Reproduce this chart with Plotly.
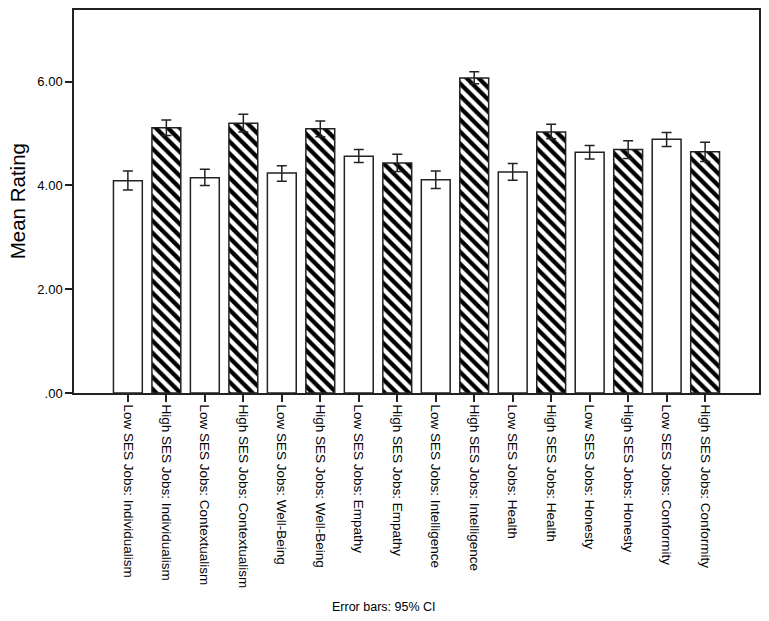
import plotly.graph_objects as go

categories = [
    "Low SES Jobs: Individualism", "High SES Jobs: Individualism",
    "Low SES Jobs: Contextualism", "High SES Jobs: Contextualism",
    "Low SES Jobs: Well-Being", "High SES Jobs: Well-Being",
    "Low SES Jobs: Empathy", "High SES Jobs: Empathy",
    "Low SES Jobs: Intelligence", "High SES Jobs: Intelligence",
    "Low SES Jobs: Health", "High SES Jobs: Health",
    "Low SES Jobs: Honesty", "High SES Jobs: Honesty",
    "Low SES Jobs: Conformity", "High SES Jobs: Conformity",
]
means = [4.09, 5.11, 4.15, 5.20, 4.24, 5.09, 4.56, 4.43,
         4.11, 6.07, 4.26, 5.03, 4.64, 4.69, 4.89, 4.65]
ci_upper = [4.28, 5.26, 4.31, 5.37, 4.38, 5.24, 4.69, 4.60,
            4.28, 6.19, 4.42, 5.18, 4.77, 4.86, 5.02, 4.83]
ci_lower = [3.91, 4.96, 4.00, 5.03, 4.08, 4.94, 4.44, 4.27,
            3.94, 5.96, 4.10, 4.90, 4.51, 4.52, 4.75, 4.46]
tick_vals = [0, 2, 4, 6]
tick_text = [".00", "2.00", "4.00", "6.00"]

err_plus = [u - m for u, m in zip(ci_upper, means)]
err_minus = [m - l for m, l in zip(means, ci_lower)]
shapes = ["\\" if c.startswith("High") else "" for c in categories]

FONT = "Liberation Sans, Arial, sans-serif"

fig = go.Figure()
fig.add_trace(go.Bar(
    x=categories,
    y=means,
    width=0.75,
    marker=dict(
        color="white",
        line=dict(color="#222222", width=1.5),
        pattern=dict(shape=shapes, fgcolor="black", bgcolor="white",
                     size=8.5, solidity=0.5, fgopacity=1, fillmode="overlay"),
    ),
    error_y=dict(type="data", symmetric=False, array=err_plus,
                 arrayminus=err_minus, color="#222222", thickness=1.5, width=5),
    showlegend=False,
))

fig.update_layout(
    width=769, height=621,
    margin=dict(l=74, r=9, t=8, b=228),
    paper_bgcolor="white", plot_bgcolor="white",
    font=dict(family=FONT, color="black", size=12),
    xaxis=dict(
        type="category", range=[-1.4, 16.4],
        showline=True, linecolor="#222222", linewidth=1.5, mirror=True,
        ticks="outside", ticklen=7, tickwidth=1.5, tickcolor="#222222",
        tickangle=90, tickfont=dict(size=13.5, family=FONT),
        showgrid=False,
    ),
    yaxis=dict(
        range=[0, 7.38],
        tickvals=tick_vals, ticktext=tick_text,
        showline=True, linecolor="#222222", linewidth=1.5, mirror=True,
        ticks="outside", ticklen=7, tickwidth=1.5, tickcolor="#222222",
        tickfont=dict(size=13, family=FONT),
        showgrid=False, zeroline=False,
    ),
    annotations=[
        dict(text="Mean Rating", xref="paper", yref="paper",
             x=-0.083, y=0.501, showarrow=False, textangle=-90,
             font=dict(size=20.5, family=FONT), xanchor="center", yanchor="middle"),
        dict(text="Error bars: 95% CI", xref="paper", yref="paper",
             x=0.453, y=-0.558, showarrow=False,
             font=dict(size=12.5, family=FONT), xanchor="center", yanchor="middle"),
    ],
)

fig.write_html(
    "out.html",
    config={"displayModeBar": False},
    post_script="document.body.style.margin='0';document.body.style.overflow='hidden';",
)
